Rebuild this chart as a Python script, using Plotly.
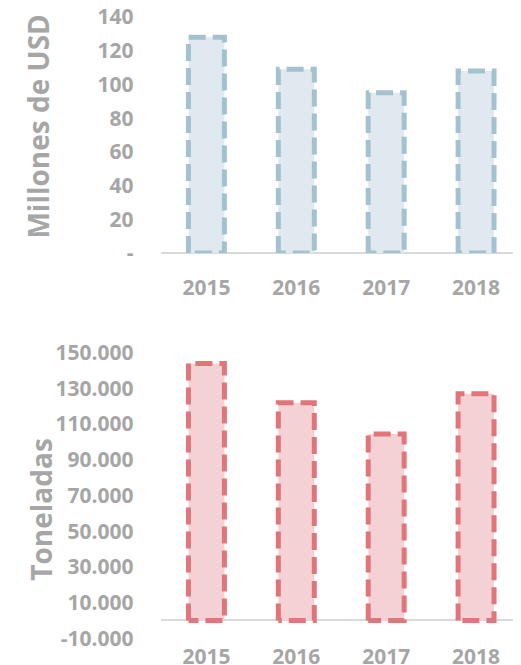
import plotly.graph_objects as go
from plotly.subplots import make_subplots

years = ["2015", "2016", "2017", "2018"]
usd_millions = [128, 109, 95, 108]
tonnes = [144000, 122000, 104500, 127000]

usd_ticks = [0, 20, 40, 60, 80, 100, 120, 140]
usd_ticktext = ["-", "20", "40", "60", "80", "100", "120", "140"]
ton_ticks = [-10000, 10000, 30000, 50000, 70000, 90000, 110000, 130000, 150000]
ton_ticktext = ["-10.000", "10.000", "30.000", "50.000", "70.000", "90.000",
                "110.000", "130.000", "150.000"]

GRAY = "#A6A6A6"
BLUE_FILL = "#DFE9EF"
BLUE_LINE = "#A3C2CF"
RED_FILL = "#F4D1D4"
RED_LINE = "#E0757A"
FONT = "Open Sans"
BAR_W = 0.40

xpos = list(range(len(years)))

fig = make_subplots(rows=2, cols=1)


def outline(vals):
    xs, ys = [], []
    for i, v in zip(xpos, vals):
        l, r = i - BAR_W / 2, i + BAR_W / 2
        xs += [l, l, r, r, l, None]
        ys += [0, v, v, 0, 0, None]
    return xs, ys


for row, vals, fill, line in [(1, usd_millions, BLUE_FILL, BLUE_LINE),
                              (2, tonnes, RED_FILL, RED_LINE)]:
    fig.add_trace(go.Bar(x=xpos, y=vals, width=BAR_W,
                         marker=dict(color=fill, line=dict(width=0)),
                         hoverinfo="skip"), row=row, col=1)
    ox, oy = outline(vals)
    fig.add_trace(go.Scatter(x=ox, y=oy, mode="lines",
                             line=dict(color=line, width=5, dash="17px,7px"),
                             hoverinfo="skip", connectgaps=False),
                  row=row, col=1)

tickfont = dict(family=FONT, size=21, color=GRAY, weight="bold")

fig.update_layout(
    template="none",
    width=513, height=657,
    margin=dict(l=0, r=0, t=0, b=0, autoexpand=False),
    paper_bgcolor="white", plot_bgcolor="white",
    showlegend=False,
    font=dict(family=FONT, color=GRAY),
    hovermode=False,
    xaxis=dict(domain=[0.2992, 1.0], range=[-0.5, 3.5], tickvals=xpos, ticktext=years,
               showgrid=False, zeroline=False, showline=False, ticks="",
               tickfont=tickfont, ticklabelstandoff=20, automargin=False,
               ticklabeloverflow="allow"),
    xaxis2=dict(domain=[0.2992, 1.0], range=[-0.5, 3.5], tickvals=xpos, ticktext=years,
                showgrid=False, zeroline=False, showline=False, ticks="",
                tickfont=tickfont, ticklabelstandoff=4, automargin=False,
                ticklabeloverflow="allow"),
    yaxis=dict(domain=[0.6271, 0.9863], range=[0, 140], tickvals=usd_ticks,
               ticktext=usd_ticktext, showgrid=False, zeroline=True,
               zerolinecolor="#D9D9D9", zerolinewidth=2, showline=False, ticks="",
               tickfont=tickfont, ticklabelstandoff=27, automargin=False,
               ticklabeloverflow="allow"),
    yaxis2=dict(domain=[0.0406, 0.4753], range=[-10000, 150000], tickvals=ton_ticks,
                ticktext=ton_ticktext, showgrid=False, zeroline=True,
                zerolinecolor="#D9D9D9", zerolinewidth=2, showline=False, ticks="",
                tickfont=tickfont, ticklabelstandoff=27, automargin=False,
                ticklabeloverflow="allow"),
    annotations=[
        dict(text="<b>Millones de USD</b>", xref="paper", yref="paper",
             x=0.0585, y=0.8196, textangle=-90, showarrow=False,
             font=dict(family=FONT, size=28, color=GRAY),
             xanchor="center", yanchor="middle"),
        dict(text="<b>Toneladas</b>", xref="paper", yref="paper",
             x=0.0643, y=0.2379, textangle=-90, showarrow=False,
             font=dict(family=FONT, size=28, color=GRAY),
             xanchor="center", yanchor="middle"),
    ],
)

fig.write_html("out.html")
